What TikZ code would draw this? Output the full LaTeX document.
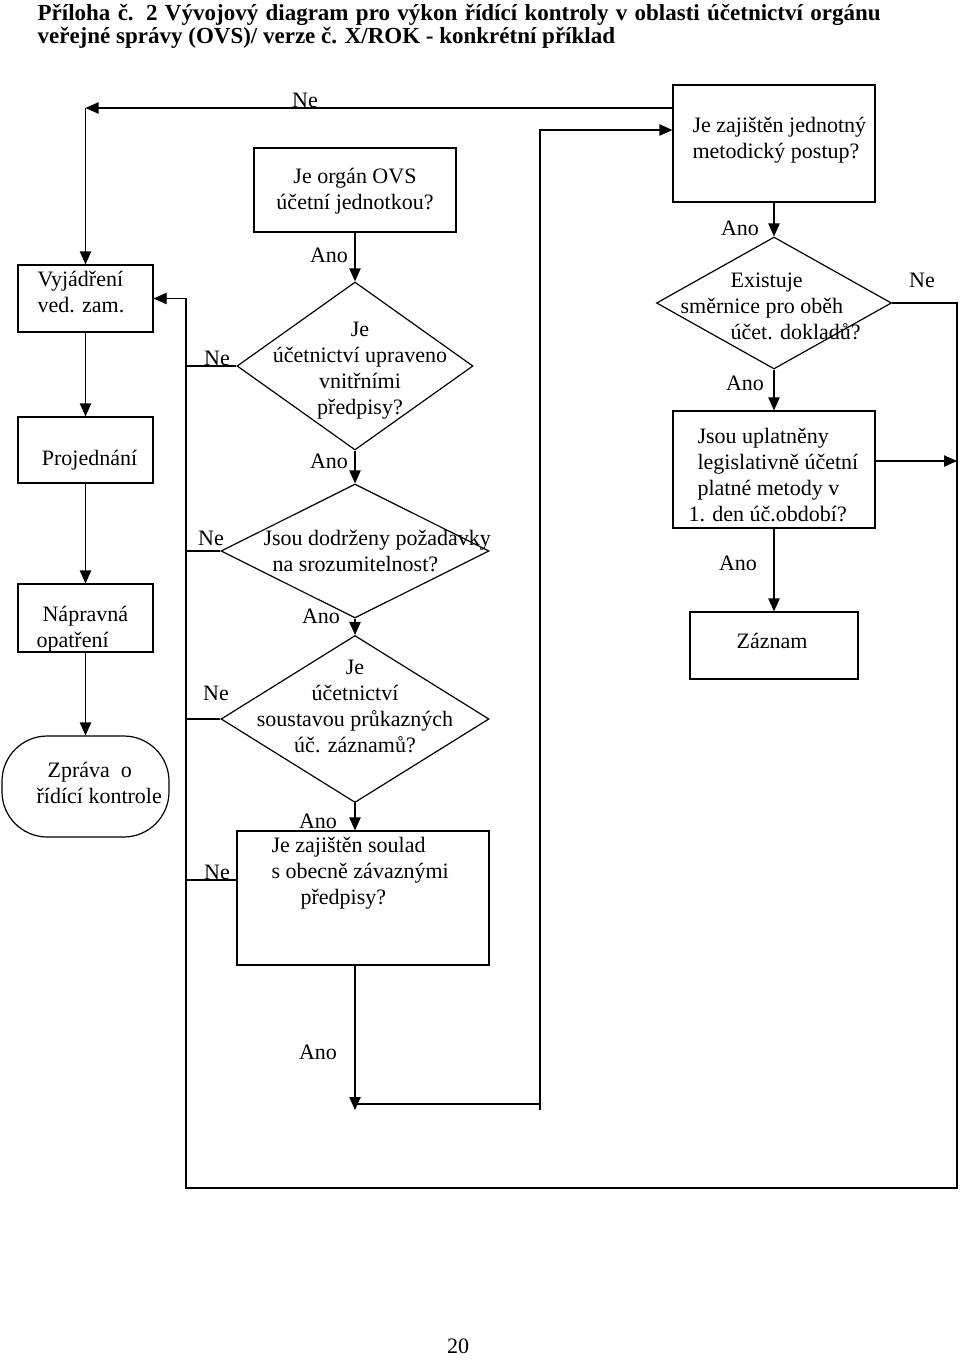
\documentclass[tikz,border=0pt]{standalone}
\usepackage{fontspec}
\setmainfont{Liberation Serif}
\usetikzlibrary{shapes.geometric,arrows.meta,calc}
\begin{document}
\begin{tikzpicture}[x=0.75pt,y=-0.75pt,
  line width=0.9pt,
  box/.style 2 args={draw, rectangle, minimum width=#1*0.75pt, minimum height=#2*0.75pt, inner sep=0pt},
  dia/.style 2 args={draw, diamond, minimum width=#1*0.75pt, minimum height=#2*0.75pt, inner sep=0pt},
  txt/.style={inner sep=0pt, font=\fontsize{16.5pt}{19.5pt}\selectfont},
  ttl/.style={inner sep=0pt, anchor=base west, font=\fontsize{17.25pt}{17.25pt}\bfseries\selectfont},
  arr/.style={-{Triangle[length=9.75pt,width=8.5pt]}},
]
\useasboundingbox (0,0) rectangle (960,1365);
\fill[white] (0,0) rectangle (960,1365);

% title
\node[ttl] (ttl1) at (37,20) {\makebox[632.25pt][s]{Příloha č. 2 Vývojový diagram pro výkon řídící kontroly v oblasti účetnictví orgánu}};
\node[ttl] (ttl2) at (37,43) {veřejné správy (OVS)/ verze č. X/ROK - konkrétní příklad};

% left column
\node[box={135}{67}] (vyj) at (85.5,298.5) {};
\node[txt, align=left, anchor=west] (tvyj) at (37,292) {Vyjádření\\ved. zam.};
\node[box={135}{66}] (proj) at (85.5,450) {};
\node[txt] (tproj) at (89.5,460) {Projednání};
\node[box={135}{68}] (nap) at (85.5,618) {};
\node[txt, align=left, anchor=west] (tnap) at (36,629) {\hspace*{4.5pt}Nápravná\\opatření};
\node[box={167}{101}, rounded corners=34pt] (zpr) at (85.5,786.5) {};
\node[txt, align=left, anchor=west] (tzpr) at (36,783) {\hspace*{8.25pt}Zpráva\ \ o\\řídící kontrole};

% middle column
\node[box={202}{84}] (jo) at (355,190) {};
\node[txt, align=center] (tjo) at (355,191) {Je orgán OVS\\účetní jednotkou?};
\node[dia={236}{168}] (d1) at (355,366) {};
\node[txt, align=center] (td1) at (360,371) {Je\\účetnictví upraveno\\vnitřními\\předpisy?};
\node[dia={268}{134}] (d2) at (355,551) {};
\node[txt, align=left, anchor=west] (td2) at (263,551) {Jsou dodrženy požadavky\\\hspace*{6.75pt}na srozumitelnost?};
\node[dia={268}{167}] (d3) at (355,719) {};
\node[txt, align=center] (td3) at (355,706) {Je\\účetnictví\\soustavou průkazných\\úč. záznamů?};
\node[box={252}{134}] (sou) at (363,898) {};
\node[txt, align=left, anchor=west] (tsou) at (271,873) {Je zajištěn soulad\\s obecně závaznými\\\hspace*{21.75pt}předpisy?};

% right column
\node[box={202}{117}] (jzp) at (774,143.5) {};
\node[txt, align=left, anchor=west] (tjzp) at (692,140) {Je zajištěn jednotný\\metodický postup?};
\node[dia={235}{132}] (d4) at (774,303) {};
\node[txt, align=left, anchor=west] (td4) at (680,306) {\hspace*{37.5pt}Existuje\\směrnice pro oběh\\\hspace*{37.5pt}účet. dokladů?};
\node[box={202}{117}] (upl) at (774,469.5) {};
\node[txt, align=left, anchor=west] (tupl) at (688,475) {\hspace*{6.75pt}Jsou uplatněny\\\hspace*{6.75pt}legislativně účetní\\\hspace*{6.75pt}platné metody v\\1. den úč.období?};
\node[box={168}{67}] (zaz) at (774,645.5) {};
\node[txt] (tzaz) at (772,641) {Záznam};

% labels
\node[txt] (ne0) at (305,100) {Ne};
\node[txt] (ne1) at (217,358) {Ne};
\node[txt] (ne2) at (211,538) {Ne};
\node[txt] (ne3) at (216,693) {Ne};
\node[txt] (ne4) at (217,872) {Ne};
\node[txt] (ne5) at (922,280) {Ne};
\node[txt] (a1) at (329,255) {Ano};
\node[txt] (a2) at (329,461) {Ano};
\node[txt] (a3) at (321,616) {Ano};
\node[txt] (a4) at (318,821) {Ano};
\node[txt] (a5) at (318,1052) {Ano};
\node[txt] (a6) at (740,228) {Ano};
\node[txt] (a7) at (745,383) {Ano};
\node[txt] (a8) at (738,563) {Ano};
\node[txt] (pg) at (458,1346) {20};

% coordinates
\coordinate (cTL) at (85.5,108);
\coordinate (cL) at (186,298.5);
\coordinate (cBL) at (186,1188);
\coordinate (cBR) at (957,1188);
\coordinate (cR) at (957,303);
\coordinate (cR2) at (957,461);
\coordinate (cN1) at (186,366);
\coordinate (cN2) at (186,551);
\coordinate (cN3) at (186,719);
\coordinate (cN4) at (186,880);
\coordinate (cA) at (355,1110);
\coordinate (cA2) at (355,1104);
\coordinate (cB) at (540,1104);
\coordinate (cC) at (540,1110);
\coordinate (cT) at (540,130);

% connectors
\draw[arr] (jzp.west |- cTL) -- (cTL);
\draw[arr] (cTL) -- (vyj.north);
\draw[arr] (vyj) -- (proj);
\draw[arr] (proj) -- (nap);
\draw[arr] (nap) -- (zpr);
\draw[arr] (d4.east) -- (cR) -- (cBR) -- (cBL) -- (cL) -- (vyj.east);
\draw (d1.west) -- (cN1);
\draw (d2.west) -- (cN2);
\draw (d3.west) -- (cN3);
\draw (sou.west |- cN4) -- (cN4);
\draw[arr] (jo) -- (d1);
\draw[arr] (d1) -- (d2);
\draw[arr] (d2) -- (d3);
\draw[arr] (d3.south) -- (d3.south |- sou.north);
\draw[arr] (cA |- sou.south) -- (cA);
\draw (cA2) -- (cB);
\draw[arr] (cC) -- (cT) -- (jzp.west |- cT);
\draw[arr] (jzp) -- (d4);
\draw[arr] (d4) -- (upl);
\draw[arr] (upl) -- (zaz);
\draw[arr] (upl.east |- cR2) -- (cR2);
\end{tikzpicture}
\end{document}
